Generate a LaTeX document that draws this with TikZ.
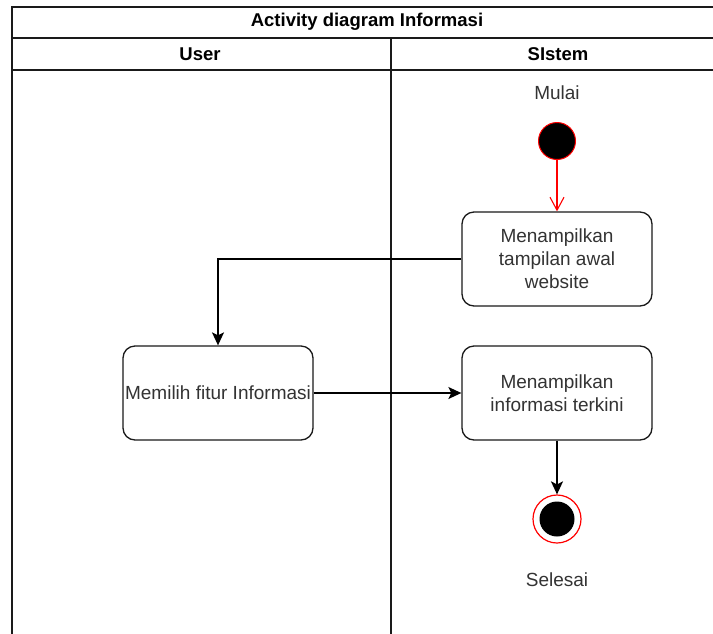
\documentclass[tikz,border=0pt]{standalone}
\usepackage{fontspec}
\setmainfont{Liberation Sans}
\usetikzlibrary{arrows.meta}
\definecolor{framegray}{HTML}{1A1A1A}
\definecolor{textgray}{HTML}{333333}
\definecolor{startred}{HTML}{FF0000}
\tikzset{
  lane/.style={draw=framegray, line width=1.6pt},
  action/.style={draw=framegray, line width=1.3pt, rounded corners=12pt, fill=white,
    minimum width=190pt, minimum height=94pt, align=center, text=textgray,
    font=\fontsize{19}{23}\selectfont, inner sep=1pt},
  flow/.style={draw=black, line width=1.4pt, -{Stealth[width=12pt,length=13pt,inset=3pt]}},
  startflow/.style={draw=startred, line width=1.1pt, -{Straight Barb[width=14pt,length=13pt,line width=1.1pt]}},
  label/.style={text=textgray, font=\fontsize{19}{23}\selectfont},
  header/.style={text=black, font=\bfseries\fontsize{18.5}{22}\selectfont},
}
\begin{document}
\begin{tikzpicture}[x=1pt,y=-1pt]
  \useasboundingbox (0,0) rectangle (713,633);
  \clip (0,0) rectangle (713,633);
  \fill[white] (0,0) rectangle (713,633);

  % swimlane frame
  \draw[lane] (12,700) -- (12,7) -- (730,7);
  \draw[lane] (12,38) -- (730,38);
  \draw[lane] (12,70) -- (730,70);
  \draw[lane] (391,38) -- (391,700);

  \node[header] (title) at (367,22) {Activity diagram Informasi};
  \node[header] (lanea) at (200,54) {User};
  \node[header] (laneb) at (558,54) {SIstem};

  % start / end
  \node[label] (mulai) at (557,93) {Mulai};
  \node[circle, fill=black, draw=startred, line width=1pt, minimum size=37pt, inner sep=0pt] (start) at (557,141) {};

  \node[action] (show) at (557,259) {Menampilkan\\tampilan awal\\website};
  \node[action] (pick) at (218,393) {Memilih fitur Informasi};
  \node[action] (info) at (557,393) {Menampilkan\\informasi terkini};

  \node[circle, fill=white, draw=startred, line width=1.2pt, minimum size=48pt, inner sep=0pt] (stop) at (557,519) {};
  \node[circle, fill=black, minimum size=35pt, inner sep=0pt] (stopin) at (stop.center) {};
  \node[label] (selesai) at (557,580) {Selesai};

  % flows
  \draw[startflow] (start) -- (show);
  \draw[flow] (show.west) -| (pick.north);
  \draw[flow] (pick.east) -- (info.west);
  \draw[flow] (info.south) -- (stop.north);
\end{tikzpicture}
\end{document}
